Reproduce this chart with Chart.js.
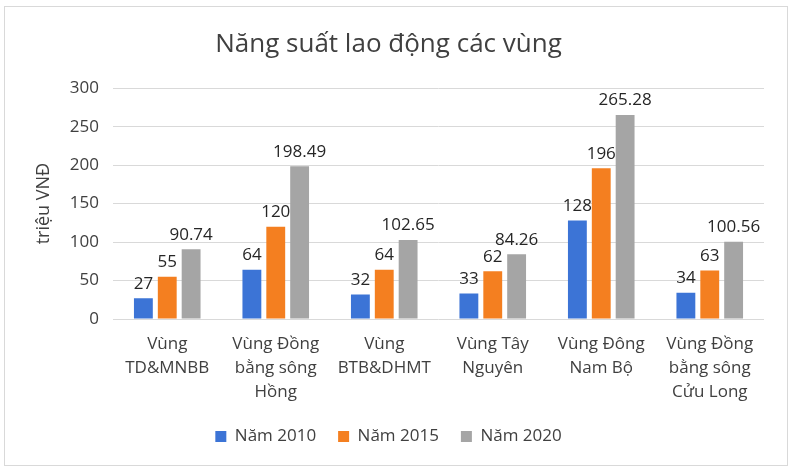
<!DOCTYPE html>
<html>
<head>
<meta charset="utf-8">
<script src="https://cdn.jsdelivr.net/npm/chart.js@4.4.0/dist/chart.umd.min.js"></script>
<style>
    body { margin: 0; background: #fff; }
    #frame {
        position: absolute; left: 4px; top: 6px;
        width: 782px; height: 458px;
        border: 1px solid #d9d9d9;
    }
</style>
</head>
<body>
<div id="frame"><canvas id="chart" width="782" height="458"></canvas></div>
<script>
    // Dữ liệu
    const regions = [
        ['Vùng', 'TD&MNBB'],
        ['Vùng Đồng', 'bằng sông', 'Hồng'],
        ['Vùng', 'BTB&DHMT'],
        ['Vùng Tây', 'Nguyên'],
        ['Vùng Đông', 'Nam Bộ'],
        ['Vùng Đồng', 'bằng sông', 'Cửu Long']
    ];
    const years = ['Năm 2010', 'Năm 2015', 'Năm 2020'];
    const values2010 = [27, 64, 32, 33, 128, 34];
    const values2015 = [55, 120, 64, 62, 196, 63];
    const values2020 = [90.74, 198.49, 102.65, 84.26, 265.28, 100.56];
    const labels2010 = ['27', '64', '32', '33', '128', '34'];
    const labels2015 = ['55', '120', '64', '62', '196', '63'];
    const labels2020 = ['90.74', '198.49', '102.65', '84.26', '265.28', '100.56'];
    const yTicks = [0, 50, 100, 150, 200, 250, 300];

    const colors = ['#3C74D6', '#F47F20', '#A5A5A5'];
    const font = '"Open Sans", "Noto Sans", sans-serif';

    // Nhãn giá trị trên cột
    const valueLabels = {
        id: 'valueLabels',
        afterDatasetsDraw(chart) {
            const ctx = chart.ctx;
            const texts = [labels2010, labels2015, labels2020];
            ctx.save();
            ctx.font = '17px ' + font;
            ctx.fillStyle = '#262626';
            ctx.textAlign = 'center';
            ctx.textBaseline = 'bottom';
            chart.data.datasets.forEach((ds, i) => {
                chart.getDatasetMeta(i).data.forEach((bar, j) => {
                    ctx.fillText(texts[i][j], bar.x, bar.y - 6);
                });
            });
            ctx.restore();
        }
    };

    new Chart(document.getElementById('chart'), {
        type: 'bar',
        data: {
            labels: regions,
            datasets: [
                { label: years[0], data: values2010, backgroundColor: colors[0] },
                { label: years[1], data: values2015, backgroundColor: colors[1] },
                { label: years[2], data: values2020, backgroundColor: colors[2] }
            ]
        },
        options: {
            responsive: false,
            animation: false,
            layout: { padding: { left: 8, right: 23, top: 0, bottom: 10 } },
            datasets: {
                bar: { categoryPercentage: 0.66, barPercentage: 0.79 }
            },
            scales: {
                x: {
                    grid: { display: false },
                    border: { display: false },
                    afterFit: axis => { axis.height = 87; },
                    ticks: {
                        color: '#404040',
                        font: { family: font, size: 17, lineHeight: 1.42 },
                        maxRotation: 0,
                        autoSkip: false,
                        padding: 5
                    }
                },
                y: {
                    min: 0,
                    max: 300,
                    afterBuildTicks: axis => { axis.ticks = yTicks.map(v => ({ value: v })); },
                    afterFit: axis => { axis.width = 100; },
                    grid: { color: '#d9d9d9', drawTicks: false },
                    border: { display: false },
                    ticks: {
                        color: '#404040',
                        font: { family: font, size: 17 },
                        padding: 14
                    },
                    title: {
                        display: true,
                        text: 'triệu VNĐ',
                        color: '#404040',
                        font: { family: font, size: 18 },
                        padding: { top: 20, bottom: 0 }
                    }
                }
            },
            plugins: {
                title: {
                    display: true,
                    text: 'Năng suất lao động các vùng',
                    color: '#404040',
                    font: { family: font, size: 26, weight: 'normal' },
                    padding: { top: 22, bottom: 28 }
                },
                legend: {
                    position: 'bottom',
                    labels: {
                        color: '#404040',
                        font: { family: font, size: 17 },
                        boxWidth: 11,
                        boxHeight: 11,
                        padding: 22
                    }
                },
                tooltip: { enabled: false }
            }
        },
        plugins: [valueLabels]
    });
</script>
</body>
</html>
